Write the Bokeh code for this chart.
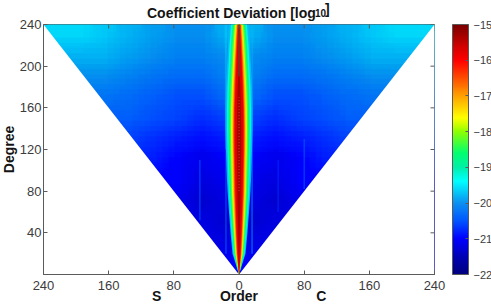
import math
import numpy as np
from bokeh.embed import file_html
from bokeh.resources import INLINE
from bokeh.plotting import figure
from bokeh.models import LinearAxis, LinearColorMapper, ColorBar, FixedTicker, Label, Range1d

# ---------- data ----------
MAX_DEG = 240
X_TICKS = [-240, -160, -80, 0, 80, 160, 240]
Y_TICKS = [40, 80, 120, 160, 200, 240]
TOP_TICKS = [-160, -80, 0, 80, 160]
CB_TICKS = [-22, -21, -20, -19, -18, -17, -16, -15]
SIDE_TICKS = [-101, 0, 101]
SIDE_LABELS = ["S", "Order", "C"]

# mean log10 deviation of the noise floor, one row per degree band (high to low),
# columns at orders -225, -195 ... -15, 15 ... 195, 225
FLOOR_230 = [-19.6, -19.6, -19.7, -19.8, -19.9, -20.0, -20.0, -19.8, -19.8, -20.0, -20.0, -19.9, -19.8, -19.7, -19.6, -19.6]
FLOOR_210 = [-19.8, -19.8, -19.8, -19.9, -20.0, -20.1, -20.1, -20.0, -20.0, -20.1, -20.1, -20.0, -19.9, -19.8, -19.8, -19.8]
FLOOR_190 = [-20.0, -20.0, -20.0, -20.1, -20.2, -20.3, -20.3, -20.1, -20.1, -20.3, -20.3, -20.2, -20.1, -20.0, -20.0, -20.0]
FLOOR_170 = [-20.2, -20.2, -20.2, -20.3, -20.4, -20.5, -20.5, -20.3, -20.3, -20.5, -20.5, -20.4, -20.3, -20.2, -20.2, -20.2]
FLOOR_150 = [-20.4, -20.4, -20.4, -20.4, -20.5, -20.6, -20.7, -20.6, -20.6, -20.7, -20.6, -20.5, -20.4, -20.4, -20.4, -20.4]
FLOOR_130 = [-20.6, -20.6, -20.6, -20.6, -20.7, -20.8, -20.9, -20.8, -20.8, -20.9, -20.8, -20.7, -20.6, -20.6, -20.6, -20.6]
FLOOR_110 = [-20.8, -20.8, -20.8, -20.8, -20.8, -21.0, -21.1, -21.0, -21.0, -21.1, -21.0, -20.8, -20.8, -20.8, -20.8, -20.8]
FLOOR_90  = [-21.0, -21.0, -21.0, -21.0, -21.0, -21.0, -21.2, -21.1, -21.1, -21.2, -21.0, -21.0, -21.0, -21.0, -21.0, -21.0]
FLOOR_70  = [-21.1, -21.1, -21.1, -21.1, -21.1, -21.1, -21.3, -21.2, -21.2, -21.3, -21.1, -21.1, -21.1, -21.1, -21.1, -21.1]
FLOOR_50  = [-21.2, -21.2, -21.2, -21.2, -21.2, -21.2, -21.2, -21.3, -21.3, -21.2, -21.2, -21.2, -21.2, -21.2, -21.2, -21.2]
FLOOR_30  = [-21.1, -21.1, -21.1, -21.1, -21.1, -21.1, -21.1, -21.2, -21.2, -21.1, -21.1, -21.1, -21.1, -21.1, -21.1, -21.1]
FLOOR_10  = [-21.0, -21.0, -21.0, -21.0, -21.0, -21.0, -21.0, -21.0, -21.0, -21.0, -21.0, -21.0, -21.0, -21.0, -21.0, -21.0]

# faint vertical streaks
STREAK_ORDER = [-48, -16, -16, 16, 48, 80]
STREAK_LOW   = [52, 20, 120, 20, 60, 82]
STREAK_HIGH  = [110, 120, 240, 240, 110, 130]
STREAK_VALUE = [-20.3, -20.2, -19.6, -19.8, -20.7, -20.3]

# central ridge: half width (orders) of each level at these degrees
RIDGE_DEG = [0, 20, 40, 60, 80, 100, 120, 140, 160, 180, 200, 220, 240]
RIDGE_M200 = [0, 8.0, 10.4, 12.3, 14.1, 15.3, 16.0, 16.6, 16.6, 16.0, 14.7, 13.5, 12.3]
RIDGE_M195 = [0, 6.8, 9.2, 11.0, 12.5, 13.5, 14.1, 14.8, 14.8, 14.1, 12.9, 11.7, 9.8]
RIDGE_M190 = [0, 5.9, 8.1, 9.8, 11.3, 12.0, 12.8, 13.1, 12.9, 12.3, 11.0, 9.8, 8.0]
RIDGE_M185 = [0, 5.2, 7.0, 8.6, 9.8, 10.4, 11.0, 11.3, 11.0, 10.4, 9.2, 8.0, 6.1]
RIDGE_M180 = [0, 4.3, 6.0, 7.4, 8.6, 9.1, 9.6, 9.8, 9.6, 8.8, 7.7, 6.4, 4.9]
RIDGE_M175 = [0, 3.6, 5.0, 6.3, 7.4, 7.9, 8.3, 8.6, 8.3, 7.6, 6.5, 5.2, 3.7]
RIDGE_M170 = [0, 2.9, 4.3, 5.4, 6.3, 6.7, 7.2, 7.4, 7.1, 6.4, 5.4, 4.0, 2.7]
RIDGE_M165 = [0, 2.3, 3.6, 4.5, 5.4, 5.9, 6.3, 6.4, 6.1, 5.4, 4.4, 3.2, 2.0]
RIDGE_M160 = [0, 1.7, 2.8, 3.7, 4.4, 4.9, 5.3, 5.4, 5.2, 4.4, 3.4, 2.2, 0.8]
RIDGE_M155 = [0, 0.4, 1.0, 1.5, 2.0, 2.3, 2.7, 2.7, 2.3, 1.6, 0.6, 0, 0]
RIDGE_LEVELS = [-20.0, -19.5, -19.0, -18.5, -18.0, -17.5, -17.0, -16.5, -16.0, -15.5]

# ---------- colours ----------
CMAP_V = [-22, -21.5, -21, -20.5, -20, -19.4, -19, -18.6, -18, -17.6, -17, -16.5, -16, -15.5, -15]
CMAP_C = ["#00007f", "#0000b8", "#0000ff", "#0058ff", "#0c90f0", "#00ffff", "#00f0a8", "#00ff70",
          "#90ff00", "#ffff00", "#ffa000", "#ff5000", "#ff0000", "#c40000", "#7a0000"]

def rgb(h):
    return [int(h[i:i + 2], 16) for i in (1, 3, 5)]

grid = np.linspace(-22, -15, 256)
chan = np.array([rgb(c) for c in CMAP_C], dtype=float)
palette = ["#%02x%02x%02x" % tuple(int(round(np.interp(g, CMAP_V, chan[:, k]))) for k in range(3)) for g in grid]
mapper = LinearColorMapper(palette=palette, low=-22, high=-15)

def col(v):
    return palette[min(255, int((v + 22) / 7 * 255))]

# ---------- layout ----------
W, H = 491, 305
L, R, T, FW, FH = 43, 57, 24, 391, 250
INK = "#3c3c3c"
LINE = "#5a5a5a"
DARK = "#141414"
p = figure(width=W, height=H, frame_width=FW, frame_height=FH, output_backend="svg", toolbar_location=None,
           x_range=Range1d(-MAX_DEG, MAX_DEG), y_range=Range1d(0, MAX_DEG),
           min_border_left=L, min_border_right=R, min_border_top=T, min_border_bottom=0,
           x_axis_location=None, y_axis_location=None, title=None)
p.grid.visible = False
p.outline_line_color = LINE
p.background_fill_color = "white"

def make_axis(ticks, standoff):
    return LinearAxis(ticker=FixedTicker(ticks=ticks), axis_line_color=LINE, major_tick_line_color=LINE,
                      minor_tick_line_color=None, major_tick_in=4, major_tick_out=0,
                      major_label_text_color=INK, major_label_text_font="Liberation Sans",
                      major_label_text_font_size="13px", major_label_standoff=standoff)

xb = make_axis(X_TICKS, 6)
xb.major_label_overrides = {t: str(abs(t)) for t in X_TICKS}
yl = make_axis(Y_TICKS, 2)
p.add_layout(xb, "below")
p.add_layout(yl, "left")

side = LinearAxis(ticker=FixedTicker(ticks=SIDE_TICKS), axis_line_color=None, major_tick_line_color=None,
                  minor_tick_line_color=None, major_tick_in=0, major_tick_out=0,
                  major_label_overrides=dict(zip(SIDE_TICKS, SIDE_LABELS)),
                  major_label_text_color=DARK, major_label_text_font="Liberation Sans",
                  major_label_text_font_style="bold", major_label_text_font_size="14px",
                  major_label_standoff=-5)
p.add_layout(side, "below")

# noise floor: the table drawn in shifted translucent layers so its cells blend
floor = np.array([FLOOR_10, FLOOR_30, FLOOR_50, FLOOR_70, FLOOR_90, FLOOR_110, FLOOR_130,
                  FLOOR_150, FLOOR_170, FLOOR_190, FLOOR_210, FLOOR_230])
rows_n, cols_n = floor.shape
cell_x, cell_y = 2 * MAX_DEG / cols_n, MAX_DEG / rows_n
p.image(image=[floor], x=-MAX_DEG, y=0, dw=2 * MAX_DEG, dh=MAX_DEG, color_mapper=mapper)
SHIFTS = [-0.375, -0.125, 0.125, 0.375]
k = 1
for sy_ in SHIFTS:
    for sx_ in SHIFTS:
        k += 1
        p.image(image=[floor], x=-MAX_DEG + sx_ * cell_x, y=sy_ * cell_y, dw=2 * MAX_DEG, dh=MAX_DEG,
                color_mapper=mapper, global_alpha=1 / k)

# streaks
p.segment(x0=STREAK_ORDER, y0=STREAK_LOW, x1=STREAK_ORDER, y1=STREAK_HIGH,
          line_color=[col(v) for v in STREAK_VALUE], line_width=1.1, line_alpha=0.65)

# ridge
rows = [RIDGE_M200, RIDGE_M195, RIDGE_M190, RIDGE_M185, RIDGE_M180, RIDGE_M175, RIDGE_M170, RIDGE_M165, RIDGE_M160, RIDGE_M155]
xs = [[-w for w in r] + [w for w in r[::-1]] for r in rows]
ys = [RIDGE_DEG + RIDGE_DEG[::-1] for _ in rows]
p.patches(xs=xs, ys=ys, fill_color=[col(lv + 0.25) for lv in RIDGE_LEVELS], line_color=None)

# ridge centre line (m = 0)
p.segment(x0=[0], y0=[190], x1=[0], y1=[MAX_DEG], line_color="#6a3a34", line_width=1.4)
p.segment(x0=[0], y0=[80], x1=[0], y1=[170], line_color="#f4b0a8", line_width=1.0, line_alpha=0.45, line_dash="1 2")

# mask outside the triangle |order| <= degree
p.patch(x=[-MAX_DEG, -MAX_DEG, 0], y=[0, MAX_DEG, 0], fill_color="white", line_color=None)
p.patch(x=[MAX_DEG, MAX_DEG, 0], y=[0, MAX_DEG, 0], fill_color="white", line_color=None)

# inward ticks on the top and right of the box
tick_x = 4 * 2 * MAX_DEG / FW
tick_y = 4 * MAX_DEG / FH
p.segment(x0=TOP_TICKS, y0=[MAX_DEG] * len(TOP_TICKS), x1=TOP_TICKS, y1=[MAX_DEG - tick_y] * len(TOP_TICKS), line_color=LINE)
p.segment(x0=[MAX_DEG] * len(Y_TICKS), y0=Y_TICKS, x1=[MAX_DEG - tick_x] * len(Y_TICKS), y1=Y_TICKS, line_color=LINE)

# colour bar
cb = ColorBar(color_mapper=mapper, ticker=FixedTicker(ticks=CB_TICKS), width=16, height=FH,
              padding=0, margin=0, location=(18, 0), title=None, bar_line_color=LINE, bar_line_width=1,
              major_tick_in=3, major_tick_out=0, major_tick_line_color=LINE, minor_tick_line_color=None,
              major_label_text_font="Liberation Sans", major_label_text_font_size="11px",
              major_label_text_color=INK, label_standoff=5)
p.add_layout(cb, "right")

# texts: each Label sits in a side panel, where it is not clipped to the frame
def piece(text, x, y, size, panel, align="left", angle=0):
    p.add_layout(Label(x=x, y=y, x_units="screen", y_units="screen", text=text, angle=angle,
                       text_font="Liberation Sans", text_font_style="bold", text_font_size=f"{size}px",
                       text_align=align, text_baseline="alphabetic", text_color=DARK), panel)

piece("Coefficient Deviation [log", 147 - 43.5, 12, 14, "above")
piece("10", 315 - 43.5, 301.5, 10, "below")
piece("]", 325 - 43.5, 322, 14, "below")
piece("Degree", 8, 125, 14, "left", align="center", angle=math.pi / 2)

open("out.html", "w").write(file_html(p, INLINE))
